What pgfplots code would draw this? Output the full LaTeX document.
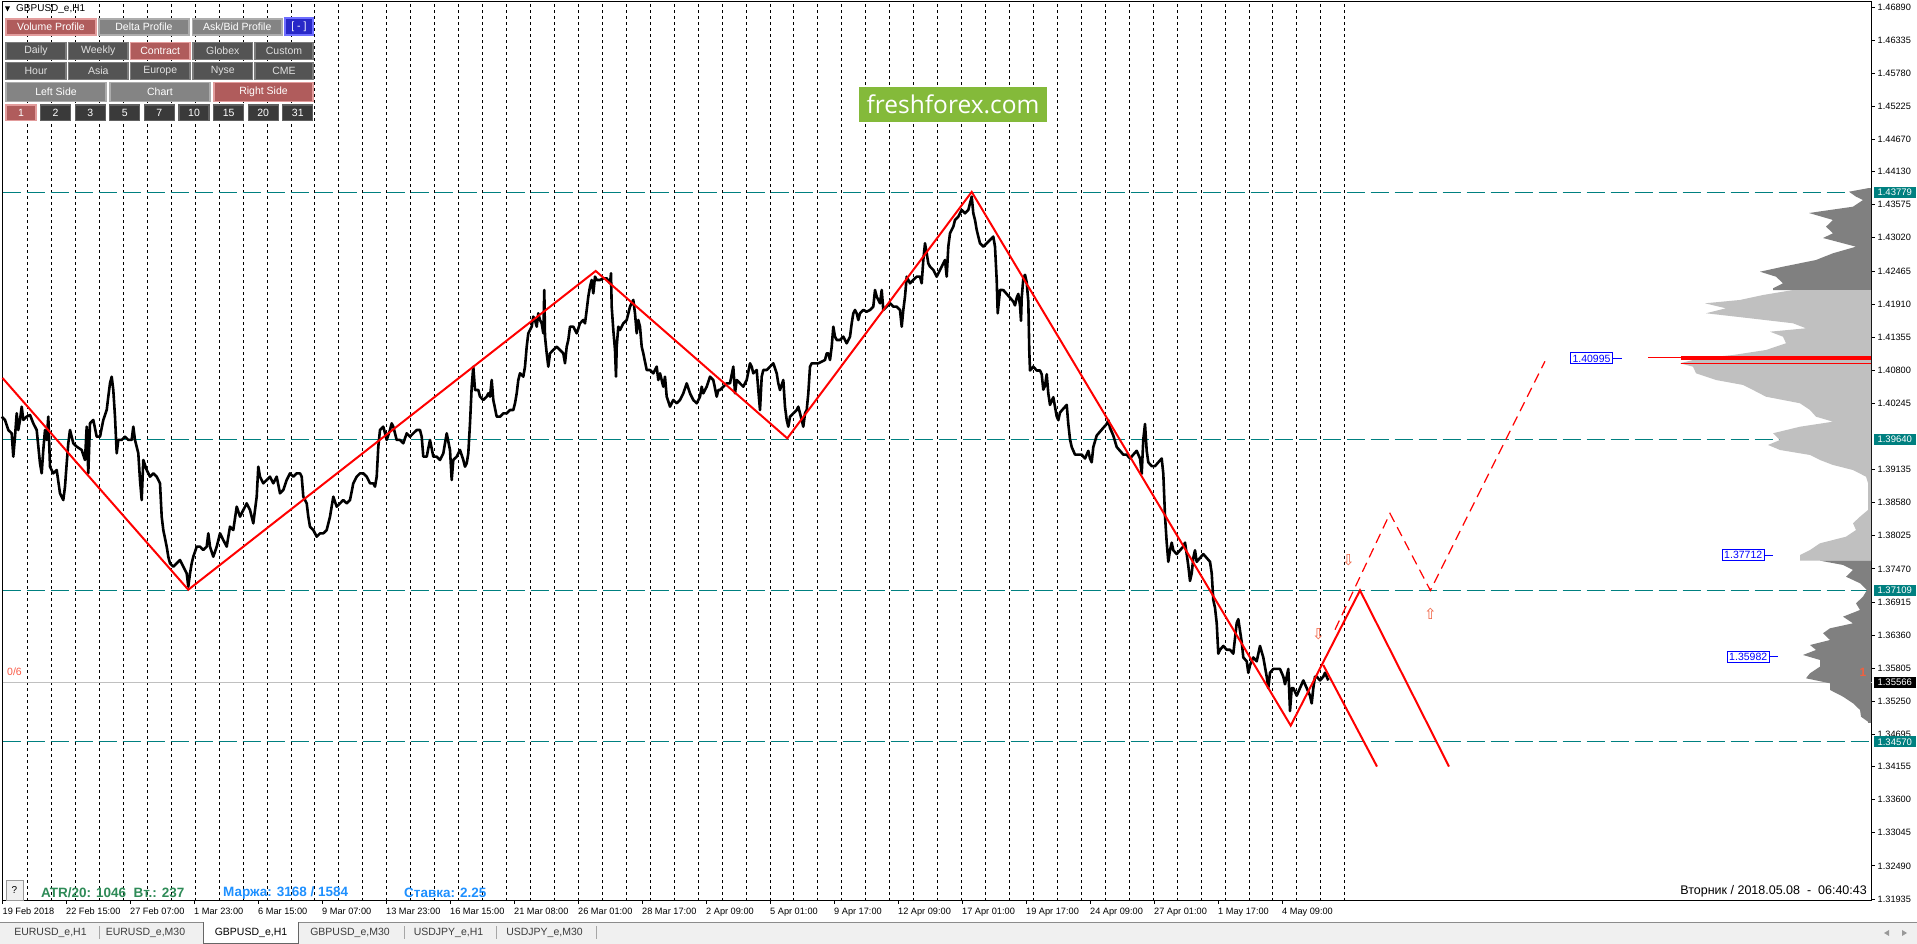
\documentclass[border=0pt]{standalone}
\usepackage{pgfplots}
\pgfplotsset{compat=1.18}
\usepackage{fontspec}
\setmainfont{Liberation Sans}
\newfontfamily\logofont{Open Sans}
\newfontfamily\symfont{DejaVu Sans}
\definecolor{tealx}{RGB}{0,128,128}
\definecolor{btnred}{RGB}{176,92,92}
\definecolor{btnredb}{RGB}{226,156,156}
\definecolor{btngray}{RGB}{132,132,132}
\definecolor{btngrayb}{RGB}{172,172,172}
\definecolor{btndark}{RGB}{84,84,84}
\definecolor{btndarkb}{RGB}{124,124,124}
\definecolor{btndarker}{RGB}{58,58,58}
\definecolor{btndarkerb}{RGB}{96,96,96}
\definecolor{btnblue}{RGB}{40,40,200}
\definecolor{btnblueb}{RGB}{110,110,255}
\definecolor{logogreen}{RGB}{132,186,58}
\definecolor{profdark}{RGB}{128,128,128}
\definecolor{proflight}{RGB}{192,192,192}
\definecolor{stgreen}{RGB}{46,139,87}
\definecolor{stblue}{RGB}{30,144,255}
\definecolor{salmonx}{RGB}{250,90,70}
\definecolor{arrowred}{RGB}{240,96,64}
\definecolor{tabbg}{RGB}{240,240,240}
\definecolor{tabtext}{RGB}{60,60,60}
\definecolor{bidgray}{RGB}{192,192,192}
\newcommand{\fs}[1]{\fontsize{#1}{#1}\selectfont}
\tikzset{
 bred/.style={fill=btnred, draw=btnredb, line width=1.2pt},
 bgray/.style={fill=btngray, draw=btngrayb, line width=1.2pt},
 bdark/.style={fill=btndark, draw=btndarkb, line width=1.2pt},
 bdarker/.style={fill=btndarker, draw=btndarkerb, line width=1.2pt},
 bblue/.style={fill=btnblue, draw=btnblueb, line width=1.2pt},
 tbox/.style={fill=tealx, text=white, font=\fs{9.5}, inner sep=0pt, minimum width=42pt, minimum height=11pt, anchor=west},
 bbox/.style={draw=blue, fill=white, text=blue, font=\fs{10.5}, inner sep=0pt, minimum width=42pt, minimum height=11pt, anchor=west, line width=1pt},
}
\newcommand{\btn}[7]{%
 \draw[#1] (#3,#4) rectangle (#5,#6);
 \node[text=#2, font=\fs{10.5}, inner sep=0pt] at ({(#3+#5)/2},{(#4+#6)/2}) {#7};}
\begin{document}
\begin{tikzpicture}[x=1pt,y=1pt]
\useasboundingbox (0,0) rectangle (1917,944);
\fill[white] (0,0) rectangle (1917,944);
\fill[tabbg] (0,0) rectangle (1917,21.5);
\draw[line width=1pt, black!45] (0,21.5) -- (1917,21.5);
\begin{axis}[
  at={(2.5pt,942pt)}, anchor=north west, scale only axis, width=1869pt, height=899pt,
  xmin=2.5, xmax=1871.5, ymin=1.31901, ymax=1.46974,
  clip=false,
  axis line style={line width=1pt},
  tick align=outside, major tick length=3pt,
  xtick pos=left, ytick pos=right, yticklabel pos=right,
  xtick={2.5,66,130,194,258,322,386,450,514,578,642,706,770,834,898,962,1026,1090,1154,1218,1282},
  xticklabels={19 Feb 2018,22 Feb 15:00,27 Feb 07:00,1 Mar 23:00,6 Mar 15:00,9 Mar 07:00,13 Mar 23:00,16 Mar 15:00,21 Mar 08:00,26 Mar 01:00,28 Mar 17:00,2 Apr 09:00,5 Apr 01:00,9 Apr 17:00,12 Apr 09:00,17 Apr 01:00,19 Apr 17:00,24 Apr 09:00,27 Apr 01:00,1 May 17:00,4 May 09:00},
  ytick={1.31935,1.32490,1.33045,1.33600,1.34155,1.34695,1.35250,1.35805,1.36360,1.36915,1.37470,1.38025,1.38580,1.39135,1.40245,1.40800,1.41355,1.41910,1.42465,1.43020,1.43575,1.44130,1.44670,1.45225,1.45780,1.46335,1.46890},
  yticklabels={1.31935,1.32490,1.33045,1.33600,1.34155,1.34695,1.35250,1.35805,1.36360,1.36915,1.37470,1.38025,1.38580,1.39135,1.40245,1.40800,1.41355,1.41910,1.42465,1.43020,1.43575,1.44130,1.44670,1.45225,1.45780,1.46335,1.46890},
  scaled y ticks=false,
  tick style={black, line width=0.8pt},
  xticklabel style={font=\fs{9.2}, anchor=north west, inner sep=0pt, yshift=-4pt},
  yticklabel style={font=\fs{9.2}, anchor=west, inner sep=0pt, xshift=3pt},
  extra x ticks={27.5,51.45,...,1345},
  extra x tick labels={},
  extra x tick style={grid=major, major tick length=0pt, xticklabel={}},
  major grid style={black, line width=0.9pt, dash pattern=on 3pt off 3pt},
]
% level lines
\addplot[tealx, line width=1.2pt, dash pattern=on 18pt off 6pt] coordinates {(2.5,1.43779)(1871.5,1.43779)};
\addplot[tealx, line width=1.2pt, dash pattern=on 18pt off 6pt] coordinates {(2.5,1.39640)(1871.5,1.39640)};
\addplot[tealx, line width=1.2pt, dash pattern=on 18pt off 6pt] coordinates {(2.5,1.37109)(1871.5,1.37109)};
\addplot[tealx, line width=1.2pt, dash pattern=on 18pt off 6pt] coordinates {(2.5,1.34570)(1871.5,1.34570)};
\addplot[bidgray, line width=1pt] coordinates {(2.5,1.35566)(1871.5,1.35566)};
% volume profile
\addplot[fill=profdark, draw=none] coordinates {(1871,1.43855)(1869,1.43855)(1849,1.43793)(1856,1.43710)(1863,1.43654)(1853,1.43542)(1809,1.43436)(1833,1.43319)(1826,1.43207)(1833,1.43096)(1823,1.43017)(1856,1.42871)(1833,1.42761)(1816,1.42648)(1783,1.42536)(1760,1.42452)(1776,1.42368)(1783,1.42258)(1773,1.42174)(1773,1.42145)(1871,1.42145)} -- cycle;
\addplot[fill=proflight, draw=none] coordinates {(1871,1.42145)(1793,1.42145)(1763,1.42061)(1740,1.41978)(1705,1.41922)(1726,1.41838)(1706,1.41755)(1750,1.41671)(1793,1.41587)(1806,1.41503)(1770,1.41446)(1783,1.41362)(1786,1.41252)(1766,1.41139)(1733,1.41055)(1700,1.41000)(1680,1.40916)(1693,1.40859)(1696,1.40749)(1716,1.40636)(1743,1.40553)(1753,1.40469)(1766,1.40356)(1800,1.40246)(1810,1.40133)(1816,1.40021)(1833,1.39937)(1800,1.39853)(1773,1.39743)(1780,1.39630)(1768,1.39547)(1780,1.39463)(1810,1.39379)(1820,1.39295)(1833,1.39211)(1853,1.39127)(1866,1.39015)(1868,1.38909)(1868,1.38457)(1860,1.38344)(1853,1.38234)(1856,1.38121)(1846,1.38009)(1820,1.37898)(1810,1.37786)(1800,1.37702)(1800,1.37607)(1871,1.37607)} -- cycle;
\addplot[fill=profdark, draw=none] coordinates {(1871,1.37607)(1820,1.37607)(1843,1.37535)(1853,1.37451)(1846,1.37338)(1860,1.37228)(1867,1.37115)(1863,1.37003)(1856,1.36892)(1860,1.36780)(1843,1.36668)(1853,1.36557)(1830,1.36473)(1823,1.36390)(1830,1.36277)(1810,1.36193)(1816,1.36110)(1803,1.36026)(1820,1.35942)(1820,1.35830)(1810,1.35719)(1806,1.35635)(1830,1.35551)(1830,1.35439)(1843,1.35327)(1853,1.35216)(1860,1.35104)(1861,1.34991)(1868,1.34907)(1868,1.34886)(1871,1.34886)} -- cycle;
\addplot[red, line width=4pt] coordinates {(1681,1.40997)(1871,1.40997)};
\addplot[red, line width=1pt] coordinates {(1648,1.41005)(1681,1.41005)};
\addplot[red, line width=1pt] coordinates {(1681,1.40916)(1871,1.40916)};
% price
\addplot[black, line width=2.6pt, line join=round] coordinates {
(1.7,1.40022)(5,1.39966)(8.3,1.39798)(11.7,1.39742)(13.3,1.39351)(15,1.39686)(16.7,1.40078)(18.3,1.39798)(20,1.39966)(21.7,1.40189)(23.3,1.39966)(26.7,1.40022)(30,1.40050)(33.3,1.39910)(36.7,1.39798)(40,1.39239)(41.7,1.39071)(43.3,1.39463)(45,1.39798)(46.7,1.39631)(48.3,1.40022)(50,1.39183)(53.3,1.39071)(56.7,1.39127)(60,1.38736)(63.3,1.38624)(65,1.38848)(66.7,1.39239)(68.3,1.39575)(70,1.39798)(73.3,1.39575)(76.7,1.39519)(81.7,1.39463)(85,1.39295)(86.7,1.39854)(88.3,1.39071)(90,1.39910)(93.3,1.39966)(96.7,1.39686)(100,1.39686)(103.3,1.39966)(106.7,1.40133)(108.3,1.40357)(110,1.40581)(111.7,1.40692)(113.3,1.40469)(115,1.40022)(116.7,1.39407)(118.3,1.39631)(121.7,1.39631)(125,1.39686)(128.3,1.39631)(131.7,1.39631)(133.3,1.39854)(135,1.39631)(138.3,1.39407)(140,1.38960)(141.7,1.38624)(143.3,1.39295)(146.7,1.39127)(150,1.39015)(153.3,1.39071)(156.7,1.39015)(160,1.38904)(161.7,1.38345)(163.3,1.38121)(166.7,1.37842)(168.3,1.37674)(170,1.37562)(173.3,1.37506)(176.7,1.37562)(180,1.37618)(183.3,1.37506)(186.7,1.37394)(188.3,1.37171)(190,1.37394)(191.7,1.37562)(193.3,1.37674)(196.7,1.37842)(200,1.37842)(203.3,1.37786)(206.7,1.37842)(208.3,1.38065)(210,1.37842)(213.3,1.37674)(216.7,1.37842)(220,1.38065)(223.3,1.37953)(226.7,1.37842)(230,1.38177)(233.3,1.38121)(236.7,1.38512)(240,1.38345)(243.3,1.38456)(246.7,1.38568)(250,1.38456)(253.3,1.38233)(256.7,1.38680)(258.3,1.39183)(260,1.39015)(263.3,1.38904)(266.7,1.38960)(270,1.39015)(273.3,1.38904)(276.7,1.39015)(280,1.38736)(283.3,1.38792)(286.7,1.38960)(290,1.39071)(293.3,1.39015)(296.7,1.39071)(300,1.39071)(301.7,1.39015)(303.3,1.38680)(306.7,1.38568)(308.3,1.38345)(310,1.38177)(313.3,1.38121)(316.7,1.38009)(320,1.38065)(323.3,1.38065)(326.7,1.38121)(330,1.38345)(333.3,1.38680)(336.7,1.38512)(340,1.38568)(343.3,1.38624)(346.7,1.38568)(350,1.38624)(353.3,1.38904)(356.7,1.39015)(360,1.39071)(363.3,1.39071)(366.7,1.39015)(370,1.38904)(373.3,1.38904)(375,1.38848)(376.7,1.39015)(378.3,1.39519)(380,1.39798)(383.3,1.39854)(386.7,1.39631)(390,1.39798)(391.7,1.39910)(393.3,1.39854)(396.7,1.39631)(400,1.39631)(403.3,1.39575)(406.7,1.39742)(410,1.39686)(413.3,1.39742)(416.7,1.39798)(420,1.39798)(421.7,1.39686)(423.3,1.39351)(426.7,1.39351)(430,1.39631)(433.3,1.39351)(436.7,1.39351)(440,1.39295)(443.3,1.39407)(446.7,1.39742)(450,1.39463)(451.7,1.38960)(453.3,1.39295)(456.7,1.39351)(460,1.39463)(463.3,1.39295)(465,1.39183)(466.7,1.39239)(468.3,1.39407)(470,1.39910)(471.7,1.40525)(473.3,1.40860)(475,1.40469)(478.3,1.40469)(480,1.40357)(483.3,1.40301)(486.7,1.40357)(488.3,1.40413)(490,1.40357)(491.7,1.40636)(493.3,1.40301)(496.7,1.40022)
(500,1.40021)(503.3,1.40077)(506.7,1.40077)(510,1.40133)(513.3,1.40133)(515,1.40245)(516.7,1.40412)(518.3,1.40636)(520,1.40748)(523.3,1.40692)(525,1.40860)(526.7,1.41195)(528.3,1.41419)(530,1.41475)(531.7,1.41530)(533.3,1.41698)(535,1.41642)(536.7,1.41530)(538.3,1.41754)(540,1.41642)(541.7,1.41586)(543.3,1.41419)(544.3,1.42145)(545,1.41363)(546.7,1.41083)(548.3,1.40860)(550,1.41083)(553.3,1.41139)(556.7,1.41195)(560,1.41139)(563.3,1.41083)(565,1.40916)(566.7,1.41195)(568.3,1.41307)(570,1.41530)(573.3,1.41530)(576.7,1.41419)(580,1.41586)(583.3,1.41642)(585,1.41586)(586.7,1.41810)(588.3,1.42034)(590,1.42201)(591.7,1.42313)(593.3,1.42089)(595,1.42369)(596.7,1.42313)(600,1.42313)(603.3,1.42341)(606.7,1.42341)(610,1.42257)(611,1.42425)(611.7,1.41866)(613.3,1.41475)(615,1.41139)(616,1.40692)(616.7,1.41195)(618.3,1.41530)(620,1.41475)(623.3,1.41586)(626.7,1.41642)(630,1.41866)(633.3,1.41978)(635,1.41754)(636.7,1.41419)(638.3,1.41642)(640,1.41530)(641.7,1.41195)(643.3,1.41083)(646.7,1.40804)(650,1.40804)(653.3,1.40748)(656.7,1.40860)(658.3,1.40636)(660,1.40748)(663.3,1.40524)(665,1.40692)(666.7,1.40357)(670,1.40189)(673.3,1.40301)(676.7,1.40245)(680,1.40301)(683.3,1.40412)(686.7,1.40580)(690,1.40412)(693.3,1.40301)(696.7,1.40245)(700,1.40357)(701.7,1.40524)(703.3,1.40412)(706.7,1.40524)(710,1.40692)(713.3,1.40636)(716.7,1.40357)(718.3,1.40468)(720,1.40468)(723.3,1.40524)(726.7,1.40580)(730,1.40580)(733.3,1.40860)(735,1.40412)(736.7,1.40636)(740,1.40580)(743.3,1.40524)(746.7,1.40636)(750,1.40916)(751.7,1.40860)(753.3,1.40748)(756.7,1.40804)(758.3,1.40468)(760,1.40133)(761.7,1.40692)(763.3,1.40804)(766.7,1.40804)(770,1.40860)(773.3,1.40916)(776.7,1.40748)(778.3,1.40580)(780,1.40468)(783.3,1.40636)(785,1.40189)(786.7,1.39965)(788.3,1.39853)(790,1.40021)(793.3,1.40077)(796.7,1.40133)(798.3,1.40189)(800,1.40077)(801.7,1.39965)(803.3,1.39853)(805,1.40077)(806.7,1.40133)(808.3,1.40412)(810,1.40860)(811.7,1.40916)(815,1.40916)(818.3,1.40916)(821.7,1.40944)(825,1.40972)(826.7,1.41083)(828.3,1.41083)(830,1.40972)(831.7,1.41195)(833.3,1.41530)(835,1.41363)(836.7,1.41307)(840,1.41307)(843.3,1.41363)(846.7,1.41251)(850,1.41363)(851.7,1.41586)(853.3,1.41754)(855,1.41810)(856.7,1.41754)(858.3,1.41642)(860,1.41754)(863.3,1.41810)(866.7,1.41782)(870,1.41810)(873.3,1.41866)(875,1.42145)(876.7,1.42034)(880,1.41922)(881.7,1.42145)(883.3,1.41810)(886.7,1.41866)(890,1.41922)(893.3,1.41866)(896.7,1.41866)(900,1.41810)(901.7,1.41530)(903.3,1.41810)(905,1.42034)(906.7,1.42369)(908.3,1.42313)(910,1.42257)(913.3,1.42313)(916.7,1.42369)(920,1.42369)(921.7,1.42257)(923.3,1.42648)(925,1.42928)(926.7,1.42760)(928.3,1.42592)(930,1.42537)(933.3,1.42481)(936.7,1.42369)(940,1.42481)(943.3,1.42592)(945,1.42648)(946.7,1.42369)(948.3,1.42872)(950,1.43096)(953.3,1.43207)(955,1.43319)(958.3,1.43375)(961.7,1.43487)(965,1.43431)(968.3,1.43487)(970,1.43599)(971.7,1.43711)(973.3,1.43431)(975,1.43319)(976.7,1.43152)(980,1.42928)(983.3,1.42872)(986.7,1.42928)(990,1.42984)(993.3,1.43040)(995,1.42872)(996.7,1.42313)(997.7,1.41754)(1000,1.42145)
(1003.3,1.42144)(1006.7,1.42079)(1010,1.42015)(1013.3,1.41951)(1015,1.41887)(1016.7,1.42015)(1018.3,1.42079)(1020,1.41887)(1021,1.41630)(1021.7,1.42015)(1023.3,1.42336)(1025,1.42400)(1026.7,1.42272)(1028.3,1.41951)(1029.3,1.41117)(1030,1.40796)(1033.3,1.40860)(1036.7,1.40796)(1040,1.40796)(1041.7,1.40732)(1043.3,1.40475)(1045,1.40540)(1046.7,1.40732)(1048.3,1.40411)(1050,1.40219)(1053.3,1.40347)(1056.7,1.40026)(1058.3,1.39962)(1060,1.40090)(1063.3,1.40155)(1066.7,1.40219)(1068.3,1.39898)(1070,1.39641)(1071.7,1.39513)(1075,1.39385)(1078.3,1.39385)(1081.7,1.39385)(1085,1.39320)(1086.7,1.39385)(1088.3,1.39449)(1090,1.39320)(1091.7,1.39256)(1093.3,1.39513)(1096.7,1.39705)(1100,1.39770)(1103.3,1.39834)(1106.7,1.39898)(1108.3,1.39962)(1110,1.39834)(1113.3,1.39705)(1116.7,1.39513)(1120,1.39449)(1123.3,1.39385)(1126.7,1.39385)(1130,1.39320)(1133.3,1.39385)(1136.7,1.39449)(1140,1.39320)(1141.7,1.39064)(1143.3,1.39641)(1145,1.39898)(1146.7,1.39449)(1148.3,1.39256)(1151.7,1.39192)(1155,1.39192)(1158.3,1.39256)(1161.7,1.39320)(1163.3,1.39064)(1165,1.38358)(1166.7,1.37909)(1168.3,1.37588)(1170,1.37781)(1171.7,1.37909)(1173.3,1.37781)(1176.7,1.37717)(1180,1.37781)(1183.3,1.37845)(1185,1.37909)(1186.7,1.37717)(1188.3,1.37524)(1190,1.37268)(1191.7,1.37396)(1193.3,1.37653)(1195,1.37781)(1196.7,1.37588)(1200,1.37653)(1203.3,1.37717)(1206.7,1.37653)(1210,1.37588)(1211.7,1.37396)(1213.3,1.36947)(1215,1.36818)(1216.7,1.36562)(1218.3,1.36048)(1220,1.36113)(1223.3,1.36177)(1226.7,1.36113)(1230,1.36113)(1233.3,1.36048)(1235,1.36305)(1236.7,1.36562)(1238.3,1.36626)(1240,1.36433)(1241.7,1.36241)(1243.3,1.35984)(1246.7,1.35920)(1248.3,1.35728)(1250,1.35856)(1253.3,1.35984)(1256.7,1.35920)(1260,1.36177)(1263.3,1.35984)(1266.7,1.35663)(1268.3,1.35471)(1270,1.35728)(1273.3,1.35792)(1276.7,1.35792)(1280,1.35792)(1283.3,1.35663)(1285,1.35535)(1286.7,1.35663)(1288.3,1.35792)(1290,1.35086)(1291.7,1.35471)(1293.3,1.35471)(1296.7,1.35343)(1300,1.35471)(1303.3,1.35599)(1306.7,1.35471)(1310,1.35343)(1311.7,1.35214)(1313.3,1.35471)(1315,1.35663)(1316.7,1.35663)(1320,1.35599)(1323.3,1.35663)(1325,1.35728)(1326.7,1.35663)(1328.3,1.35599)};
% zigzag
\addplot[red, line width=2pt] coordinates {(2.5,1.40670)(188.3,1.37120)(595.7,1.42464)(787.3,1.39658)(971.7,1.43790)(1290.7,1.34842)(1360,1.37109)(1449,1.34155)};
\addplot[red, line width=2pt] coordinates {(1323.3,1.35856)(1377,1.34155)};
\addplot[red, line width=1.2pt, dash pattern=on 10pt off 6pt] coordinates {(1335,1.36450)(1390,1.38398)(1430.4,1.37107)(1545,1.40950)};
% arrows
\addplot[draw=none, mark=none, point meta=explicit symbolic,
  nodes near coords={\symfont\fs{15}\pgfplotspointmeta},
  nodes near coords style={anchor=center, text=arrowred, inner sep=0pt}]
  coordinates {(1348.3,1.37618)[⇩] (1318.3,1.36368)[⇩] (1430.4,1.36718)[⇧]};
% right axis boxes
\node[tbox] at (axis cs:1873.5,1.43779) {1.43779};
\node[tbox] at (axis cs:1873.5,1.39640) {1.39640};
\node[tbox] at (axis cs:1873.5,1.37109) {1.37109};
\node[tbox] at (axis cs:1873.5,1.34570) {1.34570};
\node[tbox, fill=black] at (axis cs:1873.5,1.35566) {1.35566};
% blue labels
\node[bbox] at (axis cs:1570,1.40997) {1.40995};
\addplot[blue, line width=1pt] coordinates {(1612,1.40997)(1622,1.40997)};
\node[bbox] at (axis cs:1721.7,1.37702) {1.37712};
\addplot[blue, line width=1pt] coordinates {(1763.7,1.37702)(1773,1.37702)};
\node[bbox] at (axis cs:1726.7,1.35995) {1.35982};
\addplot[blue, line width=1pt] coordinates {(1768.7,1.35995)(1778,1.35995)};
\end{axis}
% panel
\fill[black] (5,937.5) -- (10,937.5) -- (7.5,932.5) -- cycle;
\node[anchor=west, font=\fs{10}, inner sep=0pt] at (16,935) {GBPUSD\_e,H1};
\btn{bred}{white}{6}{909}{96}{925}{Volume Profile}
\btn{bgray}{white}{99}{909}{189}{925}{Delta Profile}
\btn{bgray}{white}{192.5}{909}{282}{925}{Ask/Bid Profile}
\btn{bblue}{white}{285}{909}{313}{926}{[ - ]}
\btn{bdark}{black!12}{6}{884.5}{66}{901.5}{Daily}
\btn{bdark}{black!12}{68.5}{884.5}{128}{901.5}{Weekly}
\btn{bred}{white}{130.5}{884.5}{190}{901.5}{Contract}
\btn{bdark}{black!12}{193}{884.5}{252.5}{901.5}{Globex}
\btn{bdark}{black!12}{255}{884.5}{313}{901.5}{Custom}
\btn{bdark}{black!12}{6}{864.5}{66}{881.5}{Hour}
\btn{bdark}{black!12}{68.5}{864.5}{128}{881.5}{Asia}
\btn{bdark}{black!12}{130.5}{864.5}{190}{881.5}{Europe}
\btn{bdark}{black!12}{193}{864.5}{252.5}{881.5}{Nyse}
\btn{bdark}{black!12}{255}{864.5}{313}{881.5}{CME}
\btn{bgray}{white}{6}{842.5}{106}{861.5}{Left Side}
\btn{bgray}{white}{110}{842.5}{210}{861.5}{Chart}
\btn{bred}{white}{214}{842.5}{313}{861.5}{Right Side}
\btn{bred}{white}{6}{823.5}{36}{839}{1}
\btn{bdarker}{white}{40.6}{823.5}{70.6}{839}{2}
\btn{bdarker}{white}{75.2}{823.5}{105.2}{839}{3}
\btn{bdarker}{white}{109.8}{823.5}{139.8}{839}{5}
\btn{bdarker}{white}{144.4}{823.5}{174.4}{839}{7}
\btn{bdarker}{white}{179}{823.5}{209}{839}{10}
\btn{bdarker}{white}{213.6}{823.5}{243.6}{839}{15}
\btn{bdarker}{white}{248.2}{823.5}{278.2}{839}{20}
\btn{bdarker}{white}{282.8}{823.5}{312.8}{839}{31}
% logo
\fill[logogreen] (859.3,822.3) rectangle (1046.6,857.3);
\node[text=white, font=\logofont\fs{24.5}, inner sep=0pt] at (953,840) {freshforex.com};
% misc texts
\node[anchor=west, text=salmonx, font=\fs{10.5}, inner sep=0pt] at (7,272) {0/6};
\node[text=arrowred, font=\bfseries\fs{12}, inner sep=0pt] at (1863,271.3) {1};
\draw[fill=tabbg, draw=black!40] (5.7,44) rectangle (23,64);
\node[font=\fs{10}, inner sep=0pt] at (14.3,54) {?};
\node[anchor=west, text=stgreen, font=\bfseries\fs{13.5}, inner sep=0pt] at (41,51.3) {ATR/20: 1046\ \ Вт.: 237};
\node[anchor=west, text=stblue, font=\bfseries\fs{13.5}, inner sep=0pt] at (223,51.3) {Маржа: 3168 / 1584};
\node[anchor=west, text=stblue, font=\bfseries\fs{13.5}, inner sep=0pt] at (404,51.3) {Ставка: 2.25};
\node[anchor=east, font=\fs{12.5}, inner sep=0pt] at (1867,53) {Вторник\ /\ 2018.05.08\ \ -\ \ 06:40:43};
% tabs
\fill[white] (203.6,1) rectangle (298.5,22);
\draw[black!60] (203.6,21.5) -- (203.6,1) -- (298.5,1) -- (298.5,21.5);
\foreach \xx in {99.5,404,496,596}{\draw[black!35] (\xx,5) -- (\xx,18);}
\node[font=\fs{10.5}, text=tabtext] at (50.5,11) {EURUSD\_e,H1};
\node[font=\fs{10.5}, text=tabtext] at (145.5,11) {EURUSD\_e,M30};
\node[font=\fs{10.5}, text=black] at (251,11) {GBPUSD\_e,H1};
\node[font=\fs{10.5}, text=tabtext] at (350,11) {GBPUSD\_e,M30};
\node[font=\fs{10.5}, text=tabtext] at (448.5,11) {USDJPY\_e,H1};
\node[font=\fs{10.5}, text=tabtext] at (544.5,11) {USDJPY\_e,M30};
\fill[black!40] (1884,11) -- (1889,14) -- (1889,8) -- cycle;
\fill[black!40] (1907,11) -- (1902,14) -- (1902,8) -- cycle;
\end{tikzpicture}
\end{document}
